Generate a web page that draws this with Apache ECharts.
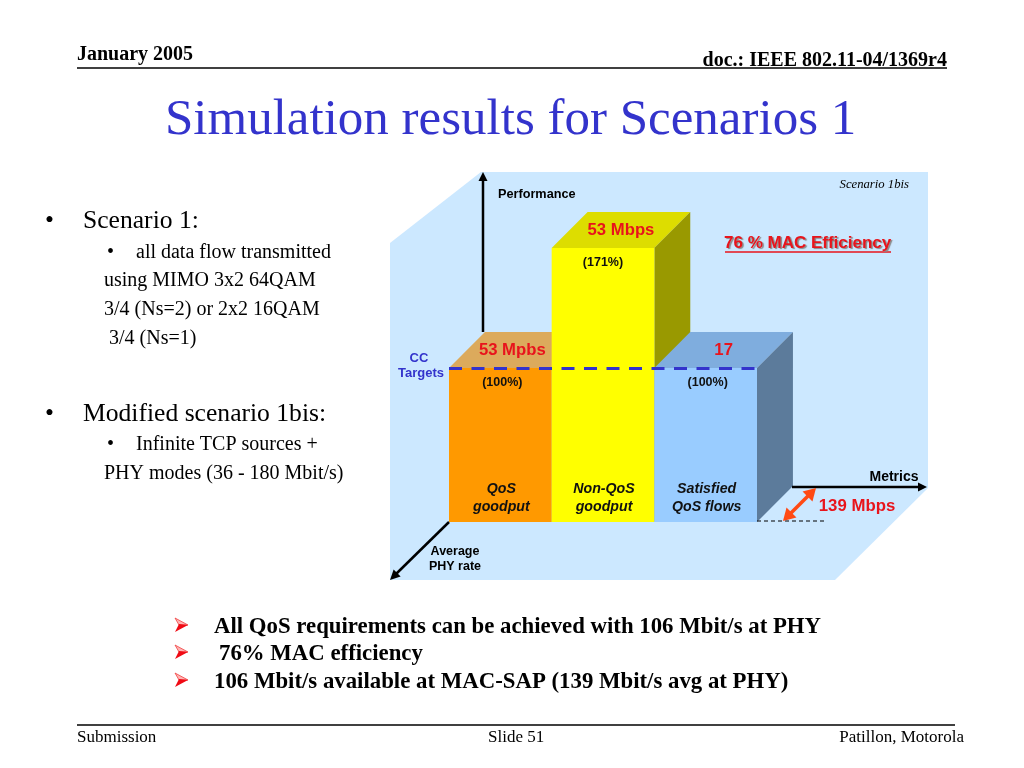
<!DOCTYPE html>
<html><head><meta charset="utf-8">
<style>html,body{margin:0;padding:0;background:#fff}#c{width:1024px;height:768px}</style>
<script src="https://cdn.jsdelivr.net/npm/echarts@6/dist/echarts.min.js"></script>
</head><body><div id="c"></div>
<script>
const categories = ['QoS\ngoodput', 'Non-QoS\ngoodput', 'Satisfied\nQoS flows'];
const barHeights = [100, 178, 100];
const topLabels = ['53 Mpbs', '53 Mbps', '17'];
const percentLabels = ['(100%)', '(171%)', '(100%)'];
const targetLevel = 100;
const frontColors = ['#ff9900', '#ffff00', '#99ccff'];
const topColors = ['#dcaa5c', '#dddd00', '#7fadde'];
const sideColors = ['#a86a00', '#999900', '#5c7b9b'];

const SERIF = '"Liberation Serif"', SANS = '"Liberation Sans"';
const slideTexts = [
  ['January 2005', 77, 55, 'bold 20px ' + SERIF, '#000', 'left'],
  ['doc.: IEEE 802.11-04/1369r4', 947, 61, 'bold 20px ' + SERIF, '#000', 'right'],
  ['Simulation results for Scenarios 1', 165, 121, '51px ' + SERIF, '#3333cc', 'left'],
  ['•', 45, 221, '25.6px ' + SERIF, '#000', 'left'],
  ['Scenario 1:', 83, 221, '25.6px ' + SERIF, '#000', 'left'],
  ['•', 107, 253, '20px ' + SERIF, '#000', 'left'],
  ['all data flow transmitted', 136, 253, '20px ' + SERIF, '#000', 'left'],
  ['using MIMO 3x2 64QAM', 104, 281, '20px ' + SERIF, '#000', 'left'],
  ['3/4 (Ns=2) or 2x2 16QAM', 104, 310, '20px ' + SERIF, '#000', 'left'],
  ['3/4 (Ns=1)', 109, 339, '20px ' + SERIF, '#000', 'left'],
  ['•', 45, 414, '25.6px ' + SERIF, '#000', 'left'],
  ['Modified scenario 1bis:', 83, 414, '25.6px ' + SERIF, '#000', 'left'],
  ['•', 107, 445, '20px ' + SERIF, '#000', 'left'],
  ['Infinite TCP sources +', 136, 445, '20px ' + SERIF, '#000', 'left'],
  ['PHY modes (36 - 180 Mbit/s)', 104, 474, '20px ' + SERIF, '#000', 'left'],
  ['All QoS requirements can be achieved with 106 Mbit/s at PHY', 214, 627, 'bold 22.8px ' + SERIF, '#000', 'left'],
  ['76% MAC efficiency', 219, 654, 'bold 22.8px ' + SERIF, '#000', 'left'],
  ['106 Mbit/s available at MAC-SAP (139 Mbit/s avg at PHY)', 214, 682, 'bold 22.8px ' + SERIF, '#000', 'left'],
  ['Submission', 77, 738, '17px ' + SERIF, '#000', 'left'],
  ['Slide 51', 488, 738, '17px ' + SERIF, '#000', 'left'],
  ['Patillon, Motorola', 964, 738, '17px ' + SERIF, '#000', 'right'],
  ['Performance', 498, 194, 'bold 12.7px ' + SANS, '#000', 'left'],
  ['Scenario 1bis', 909, 185, 'italic 12.7px ' + SERIF, '#000', 'right'],
  ['CC', 419, 358, 'bold 13px ' + SANS, '#3333cc', 'center'],
  ['Targets', 421, 373, 'bold 13px ' + SANS, '#3333cc', 'center'],
  ['Metrics', 894, 477, 'bold 14px ' + SANS, '#000', 'center'],
  ['139 Mbps', 857, 506, 'bold 16.8px ' + SANS, '#e8141c', 'center'],
  ['Average', 455, 552, 'bold 12.5px ' + SANS, '#000', 'center'],
  ['PHY rate', 455, 567, 'bold 12.5px ' + SANS, '#000', 'center']
];

function textEl(t) {
  return { type: 'text', z: 50, x: t[1], y: t[2],
    style: { text: t[0], font: t[3], fill: t[4], align: t[5], verticalAlign: 'middle' } };
}
function line(x1, y1, x2, y2, color, w, dash) {
  return { type: 'line', z: 40, shape: { x1, y1, x2, y2 },
    style: { stroke: color, lineWidth: w, lineDash: dash || null } };
}
function head(tx, ty, fx, fy, len, wid, color) {
  const d = Math.hypot(tx - fx, ty - fy), ux = (tx - fx) / d, uy = (ty - fy) / d;
  const bx = tx - ux * len, by = ty - uy * len;
  return { type: 'polygon', z: 41, shape: { points: [[tx, ty],
    [bx - uy * wid, by + ux * wid], [bx + uy * wid, by - ux * wid]] }, style: { fill: color } };
}
function chevron(y) {
  return [
    { type: 'polygon', z: 41, shape: { points: [[175, y - 8], [188, y - 1], [179, y - 1]] },
      style: { fill: '#ffb4b4', stroke: '#f04040', lineWidth: 0.8 } },
    { type: 'polygon', z: 41, shape: { points: [[179, y - 2], [188, y - 1], [175, y + 6]] },
      style: { fill: '#f00a14' } }
  ];
}

const graphics = [
  { type: 'polygon', z: -10, silent: true,
    shape: { points: [[390, 243], [481, 172], [928, 172], [928, 488], [835, 580], [390, 580]] },
    style: { fill: '#cce8ff' } },
  line(77, 68, 947, 68, '#000', 1.5),
  line(77, 725, 955, 725, '#000', 1.5),
  line(483, 332, 483, 178, '#000', 2.5), head(483, 172, 483, 332, 9, 4.5, '#000'),
  line(792, 487, 920, 487, '#000', 2.5), head(927, 487, 792, 487, 9, 4.5, '#000'),
  line(449, 522, 396, 574, '#000', 2.5), head(390, 580, 449, 522, 10, 5, '#000'),
  line(757, 521, 826, 521, '#000', 1, [4, 3]),
  line(809, 495, 790, 514, '#ff4a14', 3.5),
  head(816, 488, 788, 516, 12, 7, '#ff4a14'), head(783, 521, 811, 493, 12, 7, '#ff4a14'),
  line(725, 252, 891, 252, '#e8141c', 1.5),
  { type: 'text', z: 50, x: 724, y: 243, style: { text: '76 % MAC Efficiency', font: 'bold 17px ' + SANS,
    fill: '#e8141c', align: 'left', verticalAlign: 'middle', textShadowColor: '#888', textShadowBlur: 1,
    textShadowOffsetX: 1.5, textShadowOffsetY: 1.5 } },
  ...chevron(626), ...chevron(653), ...chevron(681),
  ...slideTexts.map(textEl)
];

function renderBar(params, api) {
  const i = api.value(0);
  const p = api.coord([i, api.value(1)]);
  const base = api.coord([i, 0]);
  const band = api.size([1, 0])[0];
  const depth = band * 0.35;
  const l = p[0] - band / 2, r = p[0] + band / 2, t = p[1], b = base[1];
  const redNudge = i === 0 ? -6 : 0;
  return { type: 'group', children: [
    { type: 'polygon', shape: { points: [[l, t], [r, t], [r + depth, t - depth], [l + depth, t - depth]] },
      style: { fill: topColors[i] } },
    { type: 'polygon', shape: { points: [[r, t], [r + depth, t - depth], [r + depth, b - depth], [r, b]] },
      style: { fill: sideColors[i] } },
    { type: 'rect', shape: { x: l, y: t, width: band, height: b - t }, style: { fill: frontColors[i] } },
    { type: 'text', x: p[0] + depth / 2 + redNudge, y: t - depth / 2,
      style: { text: topLabels[i], font: 'bold 16.7px ' + SANS, fill: '#e8141c', align: 'center', verticalAlign: 'middle' } },
    { type: 'text', x: p[0] + (i === 1 ? 0 : 2), y: t + 15,
      style: { text: percentLabels[i], font: 'bold 12.5px ' + SANS, fill: '#111', align: 'center', verticalAlign: 'middle' } },
    { type: 'text', x: p[0] + 1, y: b - 24,
      style: { text: categories[i], font: 'italic bold 14.2px ' + SANS, lineHeight: 18, fill: '#111', align: 'center', verticalAlign: 'middle' } }
  ] };
}

const chart = echarts.init(document.getElementById('c'), null, { renderer: 'canvas' });
chart.setOption({
  animation: false,
  backgroundColor: '#fff',
  grid: { left: 449, width: 308, top: 214, height: 308 },
  xAxis: { type: 'category', data: categories, show: false },
  yAxis: { type: 'value', min: 0, max: 200, show: false },
  graphic: graphics,
  series: [{
    type: 'custom', renderItem: renderBar, silent: true, clip: false,
    encode: { x: 0, y: 1 },
    data: barHeights.map((v, i) => [i, v]),
    markLine: { silent: true, symbol: 'none', label: { show: false }, z: 20,
      lineStyle: { color: '#3333cc', width: 3, type: [13, 9.5], opacity: 1 },
      data: [{ yAxis: targetLevel }] }
  }]
});
</script></body></html>
